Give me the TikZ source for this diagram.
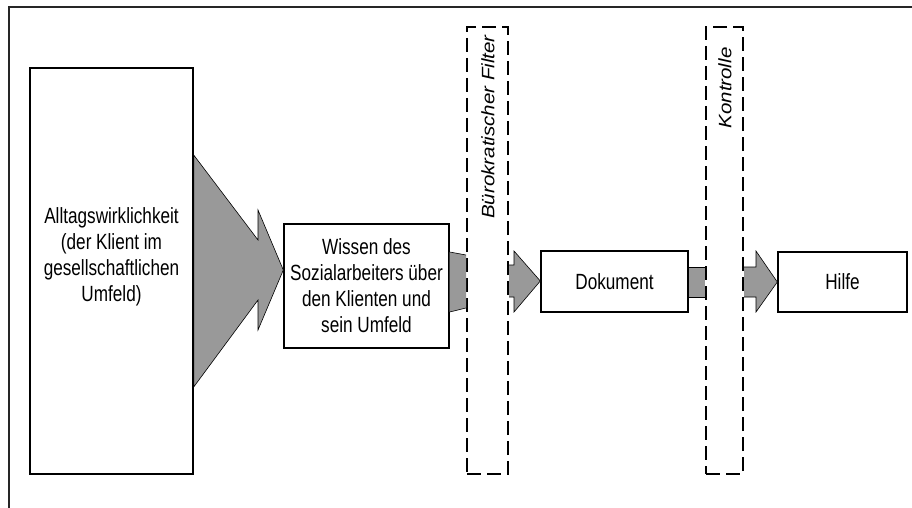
\documentclass[tikz,border=0pt]{standalone}
\usepackage{fontspec}
\setmainfont{Liberation Sans}
\newfontfamily\bodyfont[FakeStretch=0.78]{Liberation Sans}
\newfontfamily\rotfont[FakeStretch=1.14]{Liberation Sans}
\usetikzlibrary{calc}
\definecolor{arrowgray}{RGB}{153,153,153}
\tikzset{
  box/.style={draw=black, line width=1.4pt, fill=white, rectangle, inner sep=0pt},
  filterbox/.style={draw=black, line width=2pt, dash pattern=on 14pt off 6pt, rectangle, inner sep=0pt},
  boxtext/.style={font=\bodyfont\fontsize{22}{26}\selectfont, align=center, inner sep=0pt},
  rottext/.style={font=\rotfont\itshape\fontsize{18}{20}\selectfont, rotate=90, inner sep=0pt},
  garrow/.style={fill=arrowgray, draw=none},
  gedge/.style={draw=black, line width=0.6pt},
  frame/.style={draw=black!85, line width=1.4pt}
}
\begin{document}
\begin{tikzpicture}[x=1pt, y=-1pt]
\useasboundingbox (0,0) rectangle (912,508);
% frame
\coordinate (ftl) at (9,7);
\coordinate (ftr) at (912,7);
\coordinate (fbl) at (9,508);
\draw[frame] (fbl) -- (ftl) -- (ftr);

% boxes
\node[box, minimum width=163pt, minimum height=406pt] (alltag) at (111.5,271) {};
\node[boxtext] (alltagtxt) at (111.5,257) {Alltagswirklichkeit\\(der Klient im\\gesellschaftlichen\\Umfeld)};
\node[box, minimum width=165pt, minimum height=124pt, boxtext] (wissen) at (366.5,286) {Wissen des\\Sozialarbeiters über\\den Klienten und\\sein Umfeld};
\node[filterbox, minimum width=41pt, minimum height=447pt] (filter) at (487.5,250.5) {};
\node[rottext] (filtertxt) at (488,127) {Bürokratischer Filter};
\node[box, minimum width=147pt, minimum height=61pt, boxtext] (dok) at (614.5,281.5) {Dokument};
\node[filterbox, minimum width=37pt, minimum height=447pt] (kontrolle) at (724.5,250.5) {};
\node[rottext] (kontrolletxt) at (725,88) {Kontrolle};
\node[box, minimum width=129pt, minimum height=60pt, boxtext] (hilfe) at (842.5,282) {Hilfe};

% big arrow alltag -> wissen
\filldraw[garrow, gedge, fill=arrowgray] (alltag.east |- 0,155) -- (258,240) -- (258,210) -- (wissen.west |- 0,270) -- (258,330) -- (258,300) -- (alltag.east |- 0,387) -- cycle;
% redraw alltag border on top
\draw[line width=1.4pt] (alltag.north east) -- (alltag.south east);

% trapezoid wissen -> filter
\fill[garrow] (wissen.east |- 0,252) -- (filter.west |- 0,255) -- (filter.west |- 0,308) -- (wissen.east |- 0,312) -- cycle;
\draw[gedge] (wissen.east |- 0,252) -- (filter.west |- 0,255);
\draw[gedge] (wissen.east |- 0,312) -- (filter.west |- 0,308);

% arrow filter -> dokument
\fill[garrow] (filter.east |- 0,265) -- (514,265) -- (514,251) -- (dok.west |- 0,281) -- (514,312) -- (514,297) -- (filter.east |- 0,297) -- cycle;
\draw[gedge] (filter.east |- 0,265) -- (514,265) -- (514,251) -- (dok.west |- 0,281) -- (514,312) -- (514,297) -- (filter.east |- 0,297);

% rect dokument -> kontrolle
\fill[garrow] (dok.east |- 0,267) rectangle (kontrolle.west |- 0,297);
\draw[gedge] (dok.east |- 0,267) -- (kontrolle.west |- 0,267);
\draw[gedge] (dok.east |- 0,297) -- (kontrolle.west |- 0,297);

% arrow kontrolle -> hilfe
\fill[garrow] (kontrolle.east |- 0,267) -- (756,267) -- (756,251) -- (hilfe.west |- 0,282) -- (756,312) -- (756,297) -- (kontrolle.east |- 0,297) -- cycle;
\draw[gedge] (kontrolle.east |- 0,267) -- (756,267) -- (756,251) -- (hilfe.west |- 0,282) -- (756,312) -- (756,297) -- (kontrolle.east |- 0,297);
\end{tikzpicture}
\end{document}
